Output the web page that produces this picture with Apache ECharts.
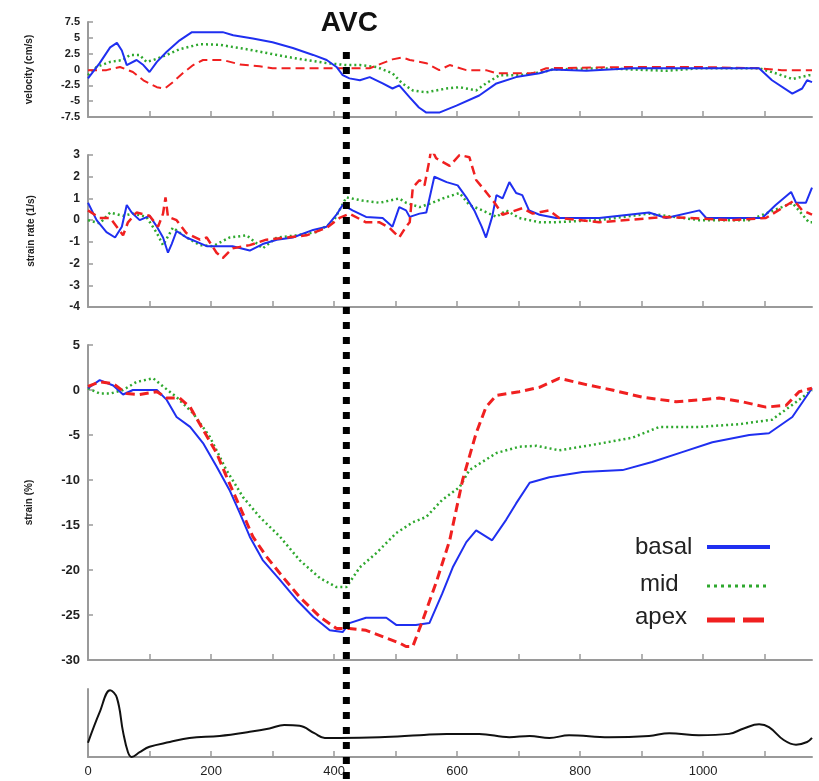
<!DOCTYPE html>
<html><head><meta charset="utf-8">
<script src="https://cdn.jsdelivr.net/npm/echarts@6/dist/echarts.min.js"></script>
<style>html,body{margin:0;padding:0;background:#fff}#c{width:819px;height:781px}</style>
</head><body><div id="c"></div>
<script>
// ---- time axis ----
const timeMax = 1177;
const avcTime = 420;
const tickValues = [0,100,200,300,400,500,600,700,800,900,1000,1100];
const tickLabels = [0,200,400,600,800,1000];
const seriesNames = ['basal','mid','apex'];

// ---- velocity (cm/s) ----
const velBasal = [[0,-1.4],[19,1.0],[36,3.5],[47,4.2],[55,3.0],[63,0.7],[79,1.5],[90,0.7],[100,-0.4],[112,1.2],[128,2.8],[149,4.6],[169,5.9],[193,5.9],[219,5.9],[236,5.4],[268,4.9],[300,4.3],[333,3.4],[366,2.3],[388,1.5],[404,0.4],[414,-0.9],[425,-1.4],[442,-1.7],[458,-1.2],[479,-2.2],[495,-3.0],[506,-2.5],[523,-4.4],[538,-6.0],[550,-6.8],[571,-6.8],[599,-5.7],[636,-4.1],[664,-2.2],[696,-1.2],[734,-0.6],[755,0],[810,-0.2],[885,0.2],[994,0.2],[1091,0.2],[1112,-1.7],[1145,-3.8],[1161,-3.0],[1169,-1.7],[1177,-2.0]];
const velMid = [[0,-0.9],[14,0.4],[36,1.2],[57,1.5],[68,2.3],[84,2.3],[95,1.2],[106,1.5],[128,2.3],[149,3.2],[182,4.0],[214,3.9],[258,3.2],[291,2.6],[323,2.0],[355,1.5],[388,1.0],[420,0.7],[442,0.7],[469,0.4],[495,-0.6],[511,-2.2],[528,-3.3],[550,-3.6],[583,-3.0],[604,-2.8],[631,-3.3],[647,-2.2],[669,-0.9],[701,-0.9],[739,-0.4],[755,0],[831,0.2],[940,-0.2],[994,0.2],[1091,0.2],[1118,-0.6],[1145,-1.5],[1172,-0.9],[1177,-0.9]];
const velApex = [[0,-0.1],[30,-0.1],[52,0.4],[73,-0.4],[90,-1.7],[112,-2.8],[125,-3.0],[138,-2.0],[154,-0.6],[171,0.7],[187,1.5],[219,1.5],[247,0.8],[279,0.5],[300,0.2],[344,0.2],[398,0.2],[430,0.2],[458,0.2],[479,1.0],[495,1.6],[511,1.9],[523,1.5],[550,1.0],[571,-0.1],[588,0.7],[615,-0.1],[647,-0.1],[664,-0.6],[723,-0.6],[745,0.2],[885,0.4],[994,0.4],[1091,0.2],[1128,-0.1],[1177,-0.1]];

// ---- strain rate (1/s) ----
const srBasal = [[0,0.8],[14,0],[30,-0.55],[44,-0.8],[55,-0.3],[63,0.7],[71,0.35],[84,0],[100,0.2],[112,-0.3],[122,-0.8],[130,-1.5],[136,-1.1],[144,-0.5],[160,-0.8],[177,-1.0],[193,-1.2],[214,-1.2],[235,-1.2],[263,-1.4],[284,-1.1],[307,-0.9],[333,-0.8],[366,-0.45],[388,-0.3],[404,0.25],[414,0.7],[430,0.45],[452,0.15],[479,0.1],[495,-0.3],[506,0.6],[517,0.45],[523,0.15],[539,0.3],[550,0.35],[563,2.0],[583,1.75],[601,1.6],[615,1.05],[628,0.45],[640,-0.3],[647,-0.8],[657,0.15],[664,1.15],[674,1.0],[685,1.75],[696,1.25],[706,1.15],[717,0.45],[734,0.25],[761,0.1],[831,0.1],[912,0.35],[940,0.1],[994,0.45],[1005,0.1],[1096,0.1],[1118,0.7],[1143,1.3],[1151,0.8],[1167,0.8],[1177,1.5]];
const srMid = [[0,0],[19,-0.15],[36,0.35],[57,0.2],[73,0.3],[95,0.15],[112,-0.6],[122,-1.15],[138,-0.35],[160,-0.8],[182,-1.15],[203,-1.2],[230,-0.8],[258,-0.7],[284,-1.3],[307,-0.8],[339,-0.7],[371,-0.55],[398,-0.1],[420,1.05],[446,0.9],[474,0.8],[506,1.0],[517,0.8],[539,0.6],[560,0.8],[577,1.0],[593,1.15],[604,1.25],[620,0.7],[641,0.45],[664,0.15],[680,0.45],[701,0.1],[734,-0.1],[755,-0.1],[831,0],[912,0.3],[994,0],[1075,0],[1128,0.6],[1145,0.8],[1172,-0.1],[1177,-0.1]];
const srApex = [[0,0.45],[19,0.1],[36,0.1],[57,-0.7],[65,-0.1],[79,0.35],[100,0.2],[114,-0.3],[122,0.3],[126,1.05],[130,0.15],[144,0],[160,-0.6],[182,-0.9],[193,-0.8],[209,-1.5],[219,-1.75],[235,-1.3],[263,-1.15],[290,-0.9],[323,-0.8],[355,-0.7],[388,-0.35],[409,0.1],[425,0.3],[452,-0.1],[474,-0.1],[490,-0.35],[506,-0.8],[517,-0.3],[523,-0.1],[528,1.5],[539,1.85],[547,1.6],[555,2.75],[558,3.3],[566,2.85],[588,2.5],[604,3.0],[620,2.9],[631,1.85],[647,1.3],[661,0.8],[674,0.25],[706,0.55],[723,0.3],[750,0.45],[766,0.1],[831,-0.1],[940,0.15],[1047,0],[1102,0.1],[1128,0.55],[1148,0.9],[1161,0.45],[1177,0.25]];

// ---- strain (%) ----
const stBasal = [[0,0.2],[19,1.1],[41,0.5],[57,-0.5],[73,0],[112,0],[128,-1.1],[144,-3.0],[166,-4.1],[187,-5.9],[209,-8.5],[230,-11.1],[247,-13.7],[263,-16.3],[284,-18.9],[312,-21.1],[339,-23.3],[366,-25.2],[393,-26.7],[414,-26.9],[425,-25.9],[452,-25.3],[485,-25.3],[501,-26.1],[533,-26.1],[555,-25.9],[576,-22.6],[593,-19.7],[615,-16.9],[631,-15.6],[657,-16.7],[680,-14.4],[696,-12.6],[718,-10.3],[750,-9.7],[804,-9.1],[869,-8.9],[917,-8.0],[966,-6.9],[1015,-5.8],[1075,-5.0],[1107,-4.8],[1145,-3.0],[1177,0.2]];
const stMid = [[0,0.2],[19,-0.4],[36,-0.4],[57,0],[79,0.9],[106,1.3],[122,0.4],[144,-0.8],[171,-2.6],[198,-5.2],[225,-8.9],[252,-11.9],[279,-14.1],[312,-16.3],[344,-18.9],[377,-20.9],[404,-21.9],[420,-21.9],[442,-19.7],[469,-18.1],[501,-15.9],[528,-14.7],[550,-14.1],[576,-12.2],[604,-10.8],[620,-8.9],[664,-7.0],[701,-6.3],[729,-6.2],[766,-6.7],[820,-6.1],[885,-5.3],[929,-4.1],[994,-4.1],[1058,-3.8],[1112,-3.3],[1140,-1.9],[1177,0]];
const stApex = [[0,0.4],[19,0.9],[41,0.7],[63,-0.4],[84,-0.5],[112,-0.2],[128,-0.9],[149,-0.9],[166,-1.9],[187,-4.4],[209,-7.0],[225,-9.6],[247,-13.0],[268,-16.3],[290,-18.5],[317,-20.8],[344,-23.0],[377,-25.2],[404,-26.5],[425,-26.5],[452,-26.7],[479,-27.4],[506,-28.1],[517,-28.5],[528,-28.5],[544,-25.6],[566,-21.4],[588,-16.7],[609,-10.0],[631,-4.8],[647,-1.9],[664,-0.6],[701,-0.2],[734,0.3],[766,1.3],[810,0.6],[852,0],[901,-0.8],[956,-1.3],[994,-1.1],[1026,-0.9],[1063,-1.3],[1102,-1.9],[1135,-1.7],[1156,-0.2],[1177,0.2]];

// ---- bottom trace (arbitrary units) ----
const ecgTrace = [[0,21],[19,66],[36,98],[47,87],[57,37],[65,7],[71,0],[84,7],[100,15],[133,22],[165,28],[214,31],[263,37],[295,42],[319,47],[344,46],[368,35],[385,28],[409,28],[474,29],[539,32],[583,34],[636,34],[685,29],[718,31],[750,28],[782,32],[847,29],[912,31],[945,35],[993,32],[1042,34],[1066,42],[1091,48],[1107,44],[1131,25],[1151,18],[1169,22],[1177,28]];

const BLUE = '#1f2ff0', GREEN = '#2ea82e', RED = '#f02020';
const AXIS = '#9a9a9a';
const FONT = '"Liberation Sans", Arial, sans-serif';

const chart = echarts.init(document.getElementById('c'), null, {renderer:'canvas'});

const grids = [
  {left:88, width:724, top:22, height:95},
  {left:88, width:724, top:155, height:152},
  {left:88, width:724, top:345, height:315},
  {left:88, width:724, top:689, height:68}
];
function xAx(i){
  return {gridIndex:i, type:'value', min:0, max:timeMax,
    axisLine:{onZero:false, lineStyle:{color:AXIS, width:2}},
    axisTick:{inside:true, length:6, customValues:tickValues, lineStyle:{color:AXIS, width:1.5}},
    axisLabel:{show:i===3, customValues:tickLabels, formatter:function(v){return String(v);},
      color:'#222', fontSize:13, fontFamily:FONT, margin:8},
    splitLine:{show:false}};
}
function yAx(i, min, max, interval, name, gap, fs){
  return {gridIndex:i, type:'value', min:min, max:max, interval:interval,
    name:name, nameLocation:'middle', nameGap:gap,
    nameTextStyle:{color:'#222', fontSize:10, fontWeight:'bold', fontFamily:FONT},
    axisLine:{show:true, onZero:false, lineStyle:{color:AXIS, width:2}},
    axisTick:{show:true, inside:true, length:5, lineStyle:{color:AXIS, width:1.5}},
    axisLabel:{color:'#222', fontSize:fs, fontWeight:'bold', fontFamily:FONT, margin:8},
    splitLine:{show:false}};
}
function ser(name, data, gi, color, type, w){
  const ls = {color:color, width:w};
  if (type==='dot') ls.type=[2,3]; else if (type==='dash') ls.type=[9,5]; else ls.type='solid';
  return {name:name, type:'line', xAxisIndex:gi, yAxisIndex:gi, data:data, symbol:'none',
    showSymbol:false, lineStyle:ls, itemStyle:{color:color}, animation:false, z:3};
}
const option = {
  animation:false,
  backgroundColor:'#fff',
  grid:grids,
  xAxis:[xAx(0),xAx(1),xAx(2),xAx(3)],
  yAxis:[
    yAx(0,-7.5,7.5,2.5,'velocity (cm/s)',54,11),
    yAx(1,-4,3,1,'strain rate (1/s)',52,12),
    yAx(2,-30,5,5,'strain (%)',54,13),
    {gridIndex:3, type:'value', min:0, max:100, axisLine:{show:true, onZero:false, lineStyle:{color:AXIS, width:2}},
     axisTick:{show:false}, axisLabel:{show:false}, splitLine:{show:false}}
  ],
  series:[
    ser(seriesNames[1], velMid, 0, GREEN, 'dot', 2.5),
    ser(seriesNames[2], velApex, 0, RED, 'dash', 2),
    ser(seriesNames[0], velBasal, 0, BLUE, 'solid', 2),
    ser(seriesNames[1], srMid, 1, GREEN, 'dot', 2.5),
    ser(seriesNames[0], srBasal, 1, BLUE, 'solid', 2),
    ser(seriesNames[2], srApex, 1, RED, 'dash', 2.5),
    ser(seriesNames[1], stMid, 2, GREEN, 'dot', 2.5),
    ser(seriesNames[0], stBasal, 2, BLUE, 'solid', 2),
    ser(seriesNames[2], stApex, 2, RED, 'dash', 3),
    {name:'trace', type:'line', xAxisIndex:3, yAxisIndex:3, data:ecgTrace, symbol:'none', smooth:0.4,
     lineStyle:{color:'#111', width:2}, animation:false}
  ]
};
chart.setOption(option);

const avcX = chart.convertToPixel({xAxisIndex:0}, avcTime);
chart.setOption({
  graphic:[
    {type:'line', z:100, shape:{x1:avcX, y1:52, x2:avcX, y2:781},
     style:{stroke:'#000', lineWidth:7, lineDash:[7,8]}},
    {type:'text', z:100, x:avcX+3, y:23, style:{text:'AVC', font:'bold 28px '+FONT, fill:'#111', align:'center', verticalAlign:'middle'}},
    // legend
    {type:'text', z:100, x:635, y:547, style:{text:seriesNames[0], font:'24px '+FONT, fill:'#222', verticalAlign:'middle'}},
    {type:'line', z:100, shape:{x1:707, y1:547, x2:770, y2:547}, style:{stroke:BLUE, lineWidth:4}},
    {type:'text', z:100, x:640, y:584, style:{text:seriesNames[1], font:'24px '+FONT, fill:'#222', verticalAlign:'middle'}},
    {type:'line', z:100, shape:{x1:707, y1:586, x2:770, y2:586}, style:{stroke:GREEN, lineWidth:3, lineDash:[3,4]}},
    {type:'text', z:100, x:635, y:617, style:{text:seriesNames[2], font:'24px '+FONT, fill:'#222', verticalAlign:'middle'}},
    {type:'line', z:100, shape:{x1:707, y1:620, x2:764, y2:620}, style:{stroke:RED, lineWidth:5, lineDash:[28,8]}}
  ]
});
</script>
</body></html>
